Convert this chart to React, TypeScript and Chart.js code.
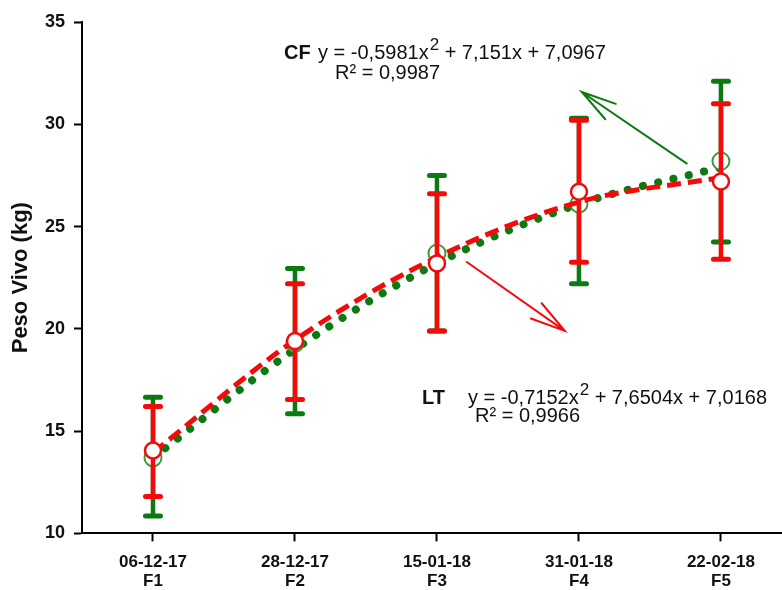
import React, { useEffect, useRef } from "react";
import { Chart, registerables } from "chart.js";

Chart.register(...registerables);

// ---- data ----
const dates = ["06-12-17", "28-12-17", "15-01-18", "31-01-18", "22-02-18"];
const phases = ["F1", "F2", "F3", "F4", "F5"];
const positions = [1, 2, 3, 4, 5];

const cfMean = [13.7, 19.3, 23.7, 26.1, 28.2];
const cfLow = [10.85, 15.85, 19.9, 22.2, 24.25];
const cfHigh = [16.65, 22.95, 27.5, 30.3, 32.1];
const cfTrend = [13.7, 19.0, 23.2, 26.1, 27.9];

const ltMean = [14.05, 19.4, 23.2, 26.7, 27.2];
const ltLow = [11.8, 16.55, 19.9, 23.25, 23.4];
const ltHigh = [16.2, 22.2, 26.6, 30.2, 31.0];
const ltTrend = [13.95, 19.45, 23.5, 26.2, 27.4];

const yTicks = [10, 15, 20, 25, 30, 35];

// ---- styles ----
const RED = "#f50a0a";
const GREEN = "#0c7a10";
const GREEN_LIGHT = "#3f9a3f";
const FONT = "'Liberation Sans', Arial, Helvetica, sans-serif";

// annotation arrows (data units)
const cfArrow = { from: [4.76, 28.08], to: [4.02, 31.58] };
const ltArrow = { from: [3.21, 23.27], to: [3.9, 19.9] };

const toXY = (vals: number[]) => vals.map((v, i) => ({ x: positions[i], y: v }));

const errorBarPlugin = {
  id: "errorBars",
  beforeDatasetDraw(chart: any, args: any) {
    const ds: any = chart.data.datasets[args.index];
    if (!ds.errLow) return;
    const ctx = chart.ctx;
    const xs = chart.scales.x;
    const ys = chart.scales.y;
    ctx.save();
    ctx.strokeStyle = ds.errColor;
    ds.data.forEach((p: any, i: number) => {
      const x = xs.getPixelForValue(p.x);
      const yl = ys.getPixelForValue(ds.errLow[i]);
      const yh = ys.getPixelForValue(ds.errHigh[i]);
      ctx.lineWidth = 4.5;
      ctx.lineCap = "butt";
      ctx.beginPath();
      ctx.moveTo(x, yl);
      ctx.lineTo(x, yh);
      ctx.stroke();
      ctx.lineWidth = 5;
      ctx.lineCap = "round";
      [yl, yh].forEach((y) => {
        ctx.beginPath();
        ctx.moveTo(x - 7.5, y);
        ctx.lineTo(x + 7.5, y);
        ctx.stroke();
      });
    });
    ctx.restore();
  },
};

function drawArrow(ctx: CanvasRenderingContext2D, x1: number, y1: number, x2: number, y2: number, color: string) {
  const ang = Math.atan2(y1 - y2, x1 - x2);
  const len = 36;
  const spread = (15 * Math.PI) / 180;
  ctx.save();
  ctx.strokeStyle = color;
  ctx.lineWidth = 2;
  ctx.lineCap = "round";
  ctx.beginPath();
  ctx.moveTo(x1, y1);
  ctx.lineTo(x2, y2);
  ctx.moveTo(x2 + len * Math.cos(ang - spread), y2 + len * Math.sin(ang - spread));
  ctx.lineTo(x2, y2);
  ctx.lineTo(x2 + len * Math.cos(ang + spread), y2 + len * Math.sin(ang + spread));
  ctx.stroke();
  ctx.restore();
}

function drawEquation(ctx: CanvasRenderingContext2D, label: string, lx: number, ex: number, base: number, a: string, rest: string, r2: string, rx: number, rBase: number) {
  ctx.save();
  ctx.fillStyle = "#111";
  ctx.textBaseline = "alphabetic";
  ctx.textAlign = "left";
  ctx.font = `bold 20px ${FONT}`;
  ctx.fillText(label, lx, base);
  ctx.font = `20px ${FONT}`;
  ctx.fillText(a, ex, base);
  let x = ex + ctx.measureText(a).width + 1;
  ctx.font = `17px ${FONT}`;
  ctx.fillText("2", x, base - 9);
  x += ctx.measureText("2").width;
  ctx.font = `20px ${FONT}`;
  ctx.fillText(rest, x, base);
  ctx.fillText(r2, rx, rBase);
  ctx.restore();
}

const annotationPlugin = {
  id: "annotations",
  afterDatasetsDraw(chart: any) {
    const ctx = chart.ctx;
    const xs = chart.scales.x;
    const ys = chart.scales.y;
    drawArrow(
      ctx,
      xs.getPixelForValue(cfArrow.from[0]), ys.getPixelForValue(cfArrow.from[1]),
      xs.getPixelForValue(cfArrow.to[0]), ys.getPixelForValue(cfArrow.to[1]),
      GREEN
    );
    drawArrow(
      ctx,
      xs.getPixelForValue(ltArrow.from[0]), ys.getPixelForValue(ltArrow.from[1]),
      xs.getPixelForValue(ltArrow.to[0]), ys.getPixelForValue(ltArrow.to[1]),
      RED
    );
    drawEquation(ctx, "CF", 284, 318, 59, "y = -0,5981x", " + 7,151x + 7,0967", "R² = 0,9987", 335, 79);
    drawEquation(ctx, "LT", 422, 468, 404, "y = -0,7152x", " + 7,6504x + 7,0168", "R² = 0,9966", 475, 422);
  },
};

export default function App() {
  const ref = useRef<HTMLCanvasElement | null>(null);

  useEffect(() => {
    if (!ref.current) return;
    const chart = new Chart(ref.current, {
      type: "line",
      data: {
        datasets: [
          {
            label: "LT",
            data: toXY(ltMean),
            showLine: false,
            pointRadius: 8,
            pointBorderWidth: 2.5,
            pointBorderColor: RED,
            pointBackgroundColor: "#ffffff",
            order: 0,
            errLow: ltLow,
            errHigh: ltHigh,
            errColor: RED,
          } as any,
          {
            label: "LT trend",
            data: toXY(ltTrend),
            borderColor: RED,
            borderWidth: 5,
            borderDash: [14, 7],
            borderCapStyle: "butt",
            pointRadius: 0,
            cubicInterpolationMode: "monotone",
            fill: false,
            order: 1,
          },
          {
            label: "CF",
            data: toXY(cfMean),
            showLine: false,
            pointRadius: 8.5,
            pointBorderWidth: 2,
            pointBorderColor: GREEN_LIGHT,
            pointBackgroundColor: "#ffffff",
            order: 2,
            errLow: cfLow,
            errHigh: cfHigh,
            errColor: GREEN,
          } as any,
          {
            label: "CF trend",
            data: toXY(cfTrend),
            borderColor: GREEN,
            borderWidth: 8,
            borderDash: [0.1, 15.6],
            borderCapStyle: "round",
            pointRadius: 0,
            cubicInterpolationMode: "monotone",
            fill: false,
            order: 3,
          },
        ],
      },
      options: {
        responsive: false,
        animation: false,
        events: [],
        layout: { autoPadding: false, padding: { top: 22, left: 0, right: 0, bottom: 0 } },
        plugins: {
          legend: { display: false },
          tooltip: { enabled: false },
        },
        scales: {
          x: {
            type: "linear",
            min: 0.5,
            max: 5.43,
            afterFit(scale: any) {
              scale.height = 56.6;
              scale.paddingLeft = 0;
              scale.paddingRight = 0;
            },
            afterBuildTicks(scale: any) {
              scale.ticks = positions.map((v) => ({ value: v }));
            },
            grid: {
              drawOnChartArea: false,
              drawTicks: true,
              tickLength: 8,
              tickWidth: 2,
              tickColor: "#000",
            },
            border: { display: true, color: "#000", width: 2 },
            ticks: {
              autoSkip: false,
              maxRotation: 0,
              padding: 11,
              color: "#111",
              font: { family: FONT, size: 17, weight: "bold", lineHeight: 1.15 },
              callback: (value: any) => {
                const i = positions.indexOf(Number(value));
                return i >= 0 ? [dates[i], phases[i]] : "";
              },
            },
          },
          y: {
            type: "linear",
            min: 10,
            max: 35,
            afterFit(scale: any) {
              scale.width = 82;
            },
            afterBuildTicks(scale: any) {
              scale.ticks = yTicks.map((v) => ({ value: v }));
            },
            grid: {
              drawOnChartArea: false,
              drawTicks: true,
              tickLength: 8,
              tickWidth: 2,
              tickColor: "#000",
            },
            border: { display: true, color: "#000", width: 2 },
            ticks: {
              padding: 9,
              color: "#111",
              font: { family: FONT, size: 18, weight: "bold" },
            },
            title: {
              display: true,
              text: "Peso Vivo (kg)",
              color: "#111",
              padding: { top: 8, bottom: 0 },
              font: { family: FONT, size: 22, weight: "bold", lineHeight: 1.2 },
            },
          },
        },
      } as any,
      plugins: [errorBarPlugin, annotationPlugin],
    });
    return () => chart.destroy();
  }, []);

  return (
    <div style={{ position: "fixed", left: 0, top: 0, width: 782, height: 590, background: "#fff" }}>
      <canvas ref={ref} width={782} height={590} style={{ display: "block" }} />
    </div>
  );
}
